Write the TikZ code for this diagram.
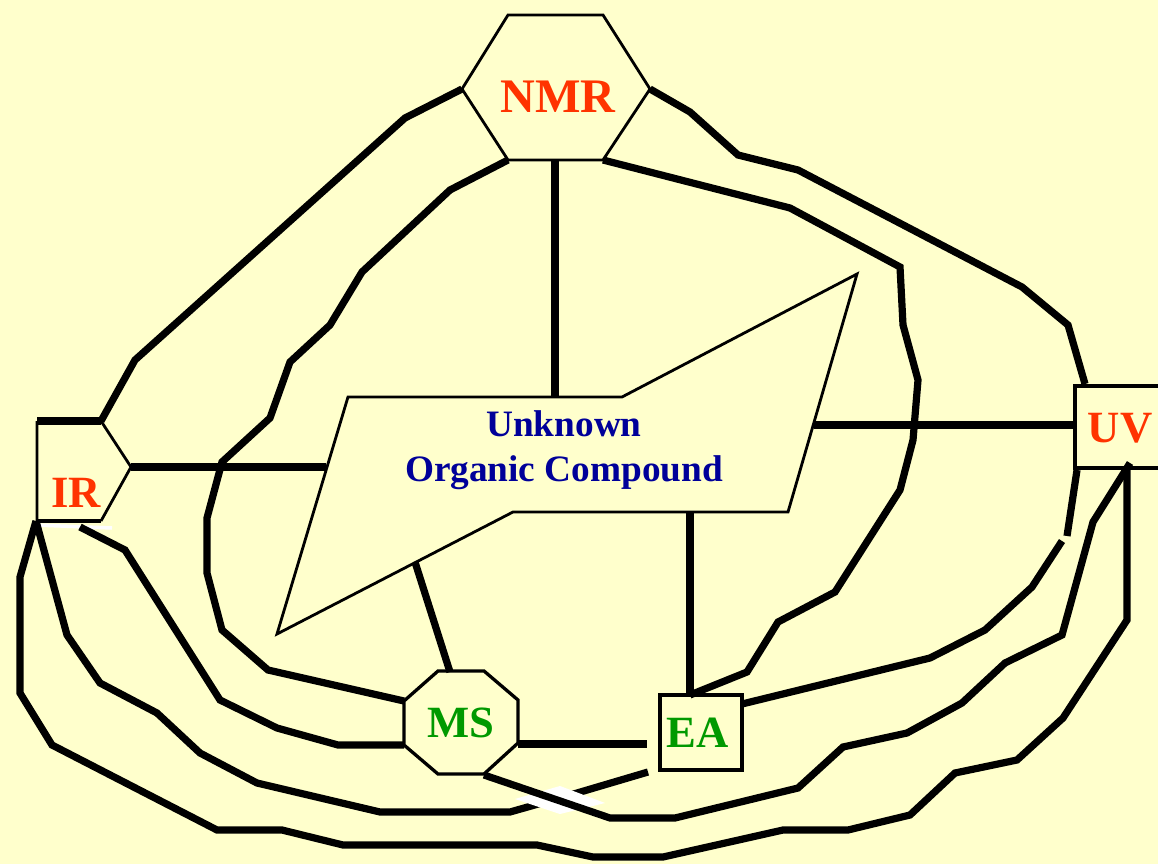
\documentclass[tikz,border=0pt]{standalone}
\usepackage{fontspec}
\setmainfont{Liberation Serif}
\definecolor{bg}{HTML}{FFFFCC}
\definecolor{labred}{HTML}{FF3300}
\definecolor{labgreen}{HTML}{009900}
\definecolor{labblue}{HTML}{000099}
\tikzset{
  link/.style={line width=0.72mm},
  outline/.style={line width=0.28mm},
  lab/.style={font=\fontsize{12.7}{14}\selectfont\bfseries, inner sep=0pt},
}
\begin{document}
\begin{tikzpicture}[x=0.01cm,y=-0.01cm]
  \fill[bg, use as bounding box] (0,0) rectangle (1158,864);
  \begin{scope}[outline]
    \draw (508,15) -- (603,15) -- (650,89) -- (603,160) -- (508,160) -- (462,89) -- cycle;
    \draw (101,421) -- (131,467) -- (101,521) (37,521) -- (37,421);
    \draw[link] (37,421) -- (101,421);
    \draw[line width=0.45mm] (37,521) -- (101,521);
    \draw[line width=0.33mm] (1160,386) -- (1075,386) -- (1075,468) -- (1160,468);
    \draw[line width=0.33mm] (438,671) -- (484,671) -- (518,700) -- (518,743) -- (484,774)
      -- (438,774) -- (404,745) -- (404,701) -- cycle;
    \draw[line width=0.33mm] (660,695) rectangle (742,770);
    \draw (348,397) -- (622,397) -- (857,274) -- (788,512) -- (513,512) -- (277,634) -- cycle;
  \end{scope}
  \draw[white, line width=0.35mm] (35,525) -- (112,528);

  \node[lab, text=labred] (nmr) at (558,97) {\fontsize{13.7}{15}\selectfont NMR};
  \node[lab, text=labred] (ir) at (76,493) {IR};
  \node[lab, text=labred] (uv) at (1120,428) {UV};
  \node[lab, text=labgreen] (ms) at (461,723) {MS};
  \node[lab, text=labgreen] (ea) at (698,733) {EA};
  \node[font=\fontsize{10.6}{12.8}\selectfont\bfseries, text=labblue, align=center, inner sep=0pt]
    (cpd) at (564,450) {Unknown\\Organic Compound};

  \coordinate (nmrW) at (462,89);
  \coordinate (nmrE) at (650,89);
  \coordinate (nmrSW) at (508,160);
  \coordinate (nmrS) at (555,160);
  \coordinate (nmrSE) at (603,160);
  \coordinate (irNE) at (101,421);
  \coordinate (irE) at (131,467);
  \coordinate (irSW) at (36,521);
  \coordinate (irS) at (80,527);
  \coordinate (uvNW) at (1085,384);
  \coordinate (uvW) at (1075,425);
  \coordinate (uvSW) at (1077,470);
  \coordinate (uvS) at (1127,470);
  \coordinate (uvSE) at (1130,463);
  \coordinate (msN) at (450,672);
  \coordinate (msNW) at (404,701);
  \coordinate (msW) at (404,745);
  \coordinate (msE) at (518,744);
  \coordinate (msSE) at (484,775);
  \coordinate (eaN) at (690,695);
  \coordinate (eaNE) at (742,704);
  \coordinate (eaSW) at (648,772);
  \coordinate (eaW) at (647,744);
  \coordinate (cpN) at (555,397);
  \coordinate (cpW) at (326,467);
  \coordinate (cpE) at (814,425);
  \coordinate (cpSW) at (415,562);
  \coordinate (cpS) at (690,512);

  \begin{scope}[link]
    \draw (irNE) -- (135,360) -- (405,118) -- (nmrW);
    \draw (nmrE) -- (690,112) -- (738,155) -- (798,170) -- (1022,287) -- (1068,325) -- (uvNW);
    \draw (nmrS) -- (cpN);
    \draw (nmrSW) -- (450,190) -- (362,272) -- (330,325) -- (290,362) -- (270,418) -- (222,462)
      -- (207,518) -- (207,573) -- (222,630) -- (268,670) -- (msNW);
    \draw (nmrSE) -- (790,208) -- (900,267) -- (903,325) -- (918,380) -- (913,440) -- (900,490)
      -- (835,592) -- (778,622) -- (747,672) -- (eaN);
    \draw (irE) -- (cpW);
    \draw (cpE) -- (uvW);
    \draw (cpSW) -- (msN);
    \draw (cpS) -- (eaN);
    \draw (msE) -- (eaW);
    \draw (eaNE) -- (930,658) -- (985,630) -- (1032,587) -- (1062,541) (1067,536) -- (uvSW);
    \draw (irSW) -- (20,577) -- (20,693) -- (52,745) -- (217,830) -- (282,830) -- (343,845)
      -- (537,845) -- (593,857) -- (663,857) -- (783,830) -- (848,830) -- (910,815) -- (955,773)
      -- (1017,760) -- (1063,718) -- (1127,620) -- (uvS);
    \draw (irSW) -- (67,635) -- (100,683) -- (157,713) -- (200,753) -- (257,783) -- (380,812)
      -- (510,812) -- (577,793) -- (eaSW);
    \draw (irS) -- (125,550) -- (220,700) -- (277,728) -- (338,745) -- (msW);
    \fill[white] (515,799) -- (560,786) -- (605,803) -- (560,814) -- cycle;
    \draw (msSE) -- (610,818) -- (675,818) -- (798,788) -- (843,747) -- (907,733) -- (962,703)
      -- (1005,663) -- (1062,635) -- (1093,522) -- (uvSE);
  \end{scope}
\end{tikzpicture}
\end{document}
